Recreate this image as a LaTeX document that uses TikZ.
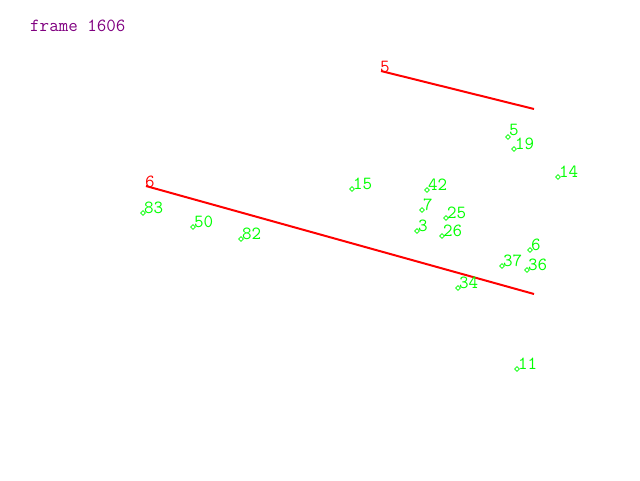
\documentclass[tikz,border=0pt]{standalone}
\usepackage{fontspec}
\usetikzlibrary{shapes.geometric}
\definecolor{framepurple}{RGB}{128,0,128}
\definecolor{ptgreen}{RGB}{0,255,0}
\definecolor{segred}{RGB}{255,0,0}
\tikzset{
  lbl/.style={inner sep=0pt, anchor=base west, font=\ttfamily\fontsize{18.5}{18.5}\selectfont},
  ptmark/.style={diamond, draw=ptgreen, line width=0.6pt, inner sep=0pt, minimum size=5pt},
  ptlbl/.style={lbl, text=ptgreen},
  seglbl/.style={lbl, text=segred},
  seg/.style={draw=segred, line width=2pt},
}
\begin{document}
\begin{tikzpicture}[x=1pt,y=-1pt]
\useasboundingbox (0,0) rectangle (640,480);
\node[lbl, text=framepurple] (title) at (30,31) {frame 1606};
% red segments
\coordinate (a1) at (381,71);
\coordinate (a2) at (534,109);
\coordinate (b1) at (146,186);
\coordinate (b2) at (534,294);
\draw[seg] (a1) -- (a2);
\draw[seg] (b1) -- (b2);
\node[seglbl] (la) at (380,72) {5};
\node[seglbl] (lb) at (145,187) {6};
% green points
\foreach \n/\x/\y/\dy in {5/508/137/-2, 19/514/149/0, 14/558/177/0, 15/352/189/0, 42/427/190/0,
  7/422/210/0, 25/446/218/0, 3/417/231/0, 26/442/236/0, 6/530/250/0, 37/502/266/0,
  36/527/270/0, 34/458/288/0, 83/143/213/0, 50/193/227/0, 82/241/239/0, 11/517/369/0}{
  \node[ptmark] (p\n) at (\x,\y) {};
  \node[ptlbl] (t\n) at (\x+1,\y+\dy) {\n};
}
\end{tikzpicture}
\end{document}
